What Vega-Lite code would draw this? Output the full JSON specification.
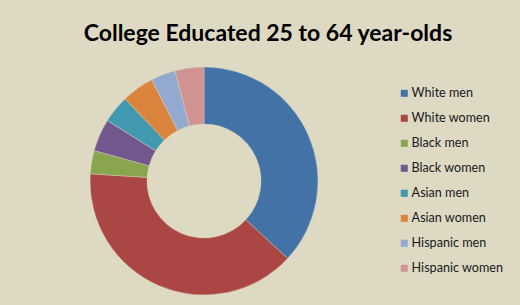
{
  "$schema": "https://vega.github.io/schema/vega-lite/v6.json",
  "width": 378,
  "height": 344,
  "autosize": "none",
  "padding": {"left": 15, "top": 9, "right": 127, "bottom": 0},
  "background": "#DDD9C3",
  "config": {"view": {"stroke": null}},
  "title": {
    "text": "College Educated 25 to 64 year-olds",
    "font": "Lato",
    "fontSize": 23,
    "fontWeight": "bold",
    "color": "#000000",
    "anchor": "middle",
    "offset": -37,
    "dx": 64
  },
  "data": {
    "values": [
      {"idx": 1, "group": "White men", "pct": 36.9},
      {"idx": 2, "group": "White women", "pct": 39.1},
      {"idx": 3, "group": "Black men", "pct": 3.3},
      {"idx": 4, "group": "Black women", "pct": 4.6},
      {"idx": 5, "group": "Asian men", "pct": 3.9},
      {"idx": 6, "group": "Asian women", "pct": 4.6},
      {"idx": 7, "group": "Hispanic men", "pct": 3.5},
      {"idx": 8, "group": "Hispanic women", "pct": 4.1}
    ]
  },
  "mark": {"type": "arc", "radius": 114, "innerRadius": 57, "stroke": "#DDD9C3", "strokeWidth": 0.4},
  "encoding": {
    "theta": {"field": "pct", "type": "quantitative", "stack": true},
    "order": {"field": "idx", "type": "quantitative"},
    "color": {
      "field": "group",
      "type": "nominal",
      "scale": {
        "domain": ["White men", "White women", "Black men", "Black women", "Asian men", "Asian women", "Hispanic men", "Hispanic women"],
        "range": ["#4372A7", "#AA4643", "#89A54E", "#71588F", "#4198AF", "#DB843D", "#93A9CF", "#D09391"]
      },
      "legend": {
        "title": null,
        "orient": "none",
        "legendX": 383,
        "legendY": 78,
        "padding": 0,
        "symbolType": "square",
        "symbolSize": 49,
        "symbolStrokeWidth": 0,
        "labelFont": "Lato",
        "labelFontSize": 12.6,
        "labelColor": "#1A1A1A",
        "labelOffset": 1,
        "rowPadding": 12
      }
    }
  }
}
